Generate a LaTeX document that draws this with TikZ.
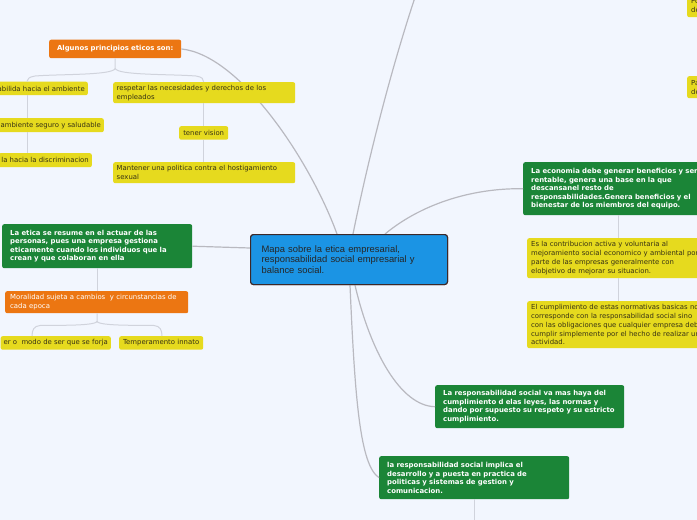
\documentclass[tikz,border=0pt]{standalone}
\usepackage{fontspec}
\newfontfamily\vd{DejaVu Sans}
\newfontfamily\ar{Liberation Sans}
\definecolor{bgc}{RGB}{242,246,254}
\definecolor{yel}{RGB}{230,218,30}
\definecolor{ytext}{RGB}{55,50,20}
\definecolor{grn}{RGB}{27,133,55}
\definecolor{org}{RGB}{236,118,18}
\definecolor{blu}{RGB}{27,148,228}
\definecolor{bord}{RGB}{60,40,40}
\definecolor{lnc}{RGB}{185,185,192}
\definecolor{inc}{RGB}{208,211,220}
\begin{document}
\begin{tikzpicture}[x=1pt,y=-1pt,
  box/.style={anchor=north west, align=left, rounded corners=2pt, inner ysep=0pt,
    font=\vd\fontsize{6.9}{8.8}\selectfont},
  ybox/.style={box, fill=yel, text=ytext, inner xsep=4pt},
  gbox/.style={box, fill=grn, text=white, inner xsep=8pt,
    font=\vd\bfseries\fontsize{6.9}{8.5}\selectfont},
  obox/.style={box, fill=org, text=white, inner xsep=5pt},
  cbox/.style={box, fill=blu, draw=bord, line width=1.1pt, rounded corners=3pt,
    text=black!85, inner xsep=11pt, font=\ar\fontsize{9.4}{10.2}\selectfont},
  conn/.style={draw=lnc, line width=1.2pt},
  inl/.style={draw=inc, line width=1pt}]
\useasboundingbox (0,0) rectangle (697,520);
\clip (0,0) rectangle (697,520);
\fill[bgc] (0,0) rectangle (697,520);

% connectors from the central node (drawn first, under the boxes)
\node[cbox, text width=175pt, minimum height=50pt] (central) at (250,234)
  {Mapa sobre la etica empresarial,\\responsabilidad social empresarial y\\balance social.};
\node[obox, font=\vd\bfseries\fontsize{6.9}{8.5}\selectfont, align=center, inner xsep=3pt,
  text width=126pt, minimum height=18.5pt] (alg) at (49,39.5) {Algunos principios eticos son:};
\node[gbox, text width=174pt, minimum height=44pt] (etica) at (2,224)
  {La etica se resume en el actuar de las\\personas, pues una empresa gestiona\\eticamente cuando los individuos que la\\crean y que colaboran en ella};
\node[gbox, text width=200pt, minimum height=53pt] (econ) at (523,162)
  {La economia debe generar beneficios y ser\\rentable, genera una base en la que\\descansanel resto de\\responsabilidades.Genera beneficios y el\\bienestar de los miembros del equipo.};
\node[gbox, text width=173pt, minimum height=43pt] (vamas) at (435,385)
  {La responsabilidad social va mas haya del\\cumplimiento d elas leyes, las normas y\\dando por supuesto su respeto y su estricto\\cumplimiento.};
\node[gbox, text width=174pt, minimum height=43pt] (implica) at (379,456)
  {la responsabilidad social implica el\\desarrollo y a puesta en practica de\\politicas y sistemas de gestion y\\comunicacion.};
\coordinate (topend) at (428,-40);

\draw[conn] (alg.east) .. controls (240,55) and (310,160) .. ([xshift=87pt]central.north west);
\draw[conn] ([xshift=103pt]central.north west) .. controls (368,160) and (395,50) .. (topend);
\draw[conn] ([xshift=135pt]central.north west) .. controls (420,205) and (470,188) .. (econ.west);
\draw[conn] (etica.east) -- ([yshift=-14pt]central.north west);
\draw[conn] ([xshift=105pt]central.south west) .. controls (370,350) and (400,406) .. (vamas.west);
\draw[conn] ([xshift=100pt]central.south west) .. controls (355,400) and (360,465) .. (implica.west);

% redraw central box on top
\node[cbox, text width=175pt, minimum height=50pt] (centraltop) at (250,234)
  {Mapa sobre la etica empresarial,\\responsabilidad social empresarial y\\balance social.};

% top-left group
\node[ybox, anchor=north east, inner xsep=3pt, minimum height=13.5pt] (y1) at (88,81.5) {abilida hacia el ambiente};
\node[ybox, anchor=north east, inner xsep=3pt, minimum height=14pt] (y2) at (104,118) {ambiente seguro y saludable};
\node[ybox, anchor=north east, inner xsep=3pt, minimum height=14pt] (y3) at (92,153) {la hacia la discriminacion};
\node[ybox, inner xsep=3.5pt, text width=175pt, minimum height=21pt] (resp) at (113,82)
  {respetar las necesidades y derechos de los\\empleados};
\node[ybox, align=center, inner xsep=2pt, text width=45pt, minimum height=13.5pt] (ten) at (179,126) {tener vision};
\node[ybox, inner xsep=3.5pt, text width=175pt, minimum height=21pt] (mant) at (113,162)
  {Mantener una politica contra el hostigamiento\\sexual};

\draw[inl] (alg.south) -- ++(0,10) coordinate (ast)
  .. controls +(-2,7) and (60,74) .. (35,76) .. controls (29,77) and (27,79) .. ([xshift=-61pt]y1.north east);
\draw[inl] (ast) .. controls +(2,7) and (170,74) .. (196,76) .. controls (202,77) and (204,79) .. (resp.north -| ten.north);
\draw[inl] ([xshift=-61pt]y1.south east) -- ([xshift=-77pt]y2.north east);
\draw[inl] ([xshift=-77pt]y2.south east) -- ([xshift=-65pt]y3.north east);
\draw[inl] (resp.south -| ten.north) -- (ten.north);
\draw[inl] (ten.south) -- (ten.south |- mant.north);

% left-middle group
\node[obox, text width=173pt, minimum height=22pt] (moral) at (5,291)
  {Moralidad sujeta a cambios\ \ y circunstancias de\\cada epoca};
\node[ybox, anchor=north east, inner xsep=3pt, minimum height=13.5pt] (er) at (111,336) {er o\ \ modo de ser que se forja};
\node[ybox, align=center, inner xsep=2pt, text width=80pt, minimum height=13.5pt] (temp) at (119,336) {Temperamento innato};
\draw[inl] ([xshift=95pt]etica.south west) -- ([xshift=92pt]moral.north west);
\draw[inl] ([xshift=92pt]moral.south west) -- ++(0,8) coordinate (mst)
  .. controls +(-2,5) and (50,325) .. (40,325.5) .. controls (34,326) and (32,330) .. ([xshift=-79pt]er.north east);
\draw[inl] (mst) .. controls +(2,5) and (145,325) .. (154,325.5) .. controls (160,326) and (162,330) .. ([xshift=43pt]temp.north west);

% right group
\node[ybox, text width=200pt, minimum height=40pt] (contrib) at (527,238)
  {Es la contribucion activa y voluntaria al\\mejoramiento social economico y ambiental por\\parte de las empresas generalmente con\\elobjetivo de mejorar su situacion.};
\node[ybox, text width=200pt, minimum height=47pt] (cumpl) at (527,301)
  {El cumplimiento de estas normativas basicas no\\corresponde con la responsabilidad social sino\\con las obligaciones que cualquier empresa debe\\cumplir simplemente por el hecho de realizar una\\actividad.};
\draw[inl] ([xshift=95pt]econ.south west) -- ([xshift=91pt]contrib.north west);
\draw[inl] ([xshift=91pt]contrib.south west) -- ([xshift=91pt]cumpl.north west);

\coordinate (bend) at (474,525);
\draw[inl] ([xshift=95pt]implica.south west) -- (bend);

% top-right partial boxes
\node[ybox, inner xsep=4pt, text width=60pt, minimum height=23pt] (po) at (687,-6) {Po\\de};
\node[ybox, inner xsep=4pt, text width=60pt, minimum height=22pt] (pa) at (687,76) {Pa\\de};
\end{tikzpicture}
\end{document}
